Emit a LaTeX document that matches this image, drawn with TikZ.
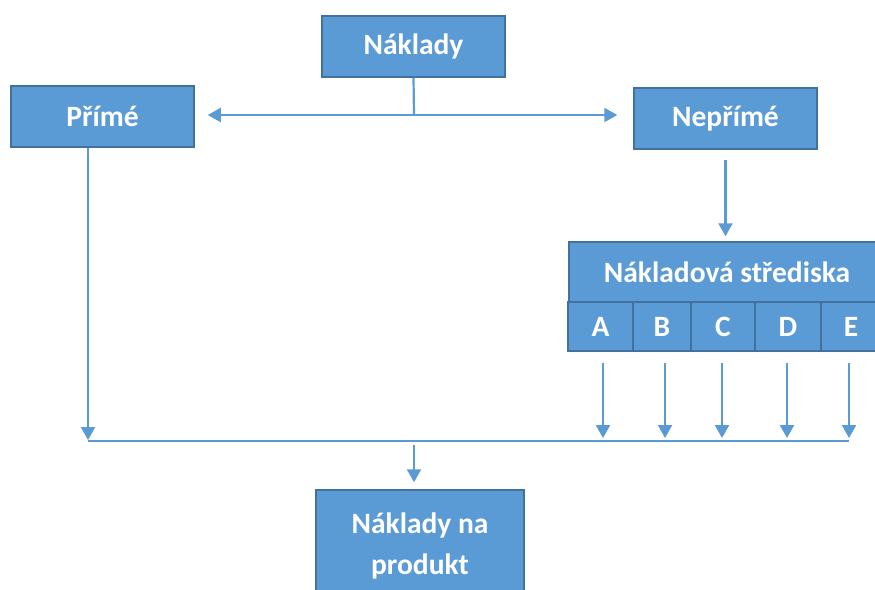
\documentclass[tikz,border=0pt]{standalone}
\usepackage{fontspec}
\setmainfont{Carlito}
\usetikzlibrary{arrows.meta}
\definecolor{boxfill}{HTML}{5B9BD5}
\definecolor{boxline}{HTML}{41719C}
\tikzset{
  box/.style={draw=boxline, line width=1.5pt, fill=boxfill, text=white,
    font=\bfseries\fontsize{29.5}{41}\selectfont, inner sep=0pt, align=center},
  arr/.style={draw=boxfill, line width=2.2pt, -{Triangle[length=13pt,width=14pt]}},
  ln/.style={draw=boxfill, line width=2.2pt}
}
\begin{document}
\begin{tikzpicture}[x=1pt,y=-1pt]
\useasboundingbox (0,0) rectangle (875,589);
\clip (0,0) rectangle (875,589);
\fill[white] (0,0) rectangle (875,589);

% cost boxes
\node[box, minimum width=183pt, minimum height=61pt] (nakl) at (413.5,46.5) {Náklady};
\node[box, minimum width=183pt, minimum height=61pt] (prime) at (102.5,116.5) {Přímé};
\node[box, minimum width=183pt, minimum height=61pt] (neprime) at (725.5,118.5) {Nepřímé};

% cost centres
\node[box, minimum width=316pt, minimum height=60pt] (stred) at (727,272) {Nákladová střediska};
\node[box, minimum width=65pt, minimum height=49pt] (A) at (600.5,326.5) {A};
\node[box, minimum width=58pt, minimum height=49pt] (B) at (662,326.5) {B};
\node[box, minimum width=64pt, minimum height=49pt] (C) at (723,326.5) {C};
\node[box, minimum width=66pt, minimum height=49pt] (D) at (788,326.5) {D};
\node[box, minimum width=60pt, minimum height=49pt] (E) at (851,326.5) {E};

% product costs
\node[box, minimum width=208pt, minimum height=112pt] (prod) at (420,546) {Náklady na\\produkt};

% split under the top box
\coordinate (split) at (414,115);
\draw[ln] (nakl.south) -- (split);
\draw[arr, shorten >=13pt] (split) -- (prime.east |- split);
\draw[arr, shorten >=16pt] (split) -- (neprime.west |- split);

% indirect costs into the centres
\draw[arr, shorten <=10pt, shorten >=5pt] (neprime.south) -- (stred.north -| neprime.south);

% collecting line
\coordinate (busL) at (88,441);
\coordinate (busR) at (849,441);
\coordinate (busM) at (414,441);
\draw[ln] (busL) -- (busR);
\draw[arr, shorten >=1pt] (prime.south -| busL) -- (busL);
\foreach \n/\x in {A/603,B/665,C/722,D/787,E/849}{
  \draw[arr, shorten <=11pt, shorten >=3pt] (\n.south -| \x,0) -- (\x,441);
}
\draw[arr, shorten <=4pt, shorten >=7pt] (busM) -- (prod.north -| busM);
\end{tikzpicture}
\end{document}
